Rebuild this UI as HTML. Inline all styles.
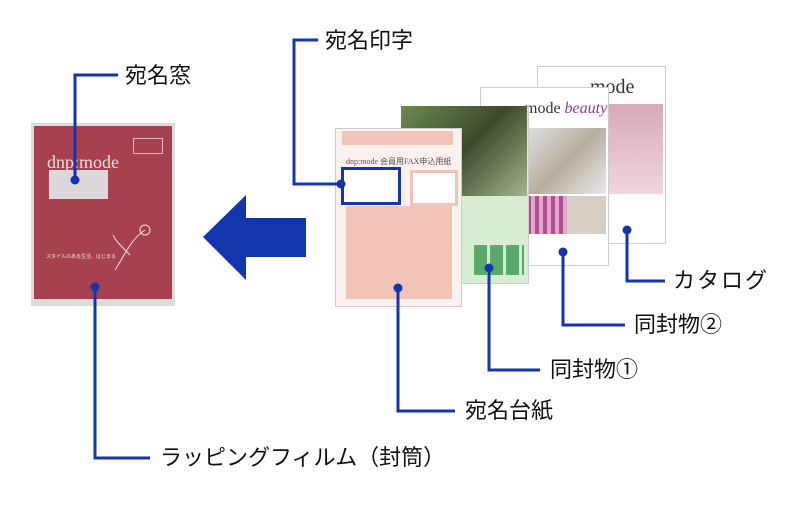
<!DOCTYPE html>
<html><head><meta charset="utf-8"><style>
body{margin:0;width:800px;height:506px;background:#fff;position:relative;overflow:hidden;font-family:"Liberation Sans","Noto Sans CJK JP",sans-serif}
.a{position:absolute}
.lbl{position:absolute;font-size:22px;font-weight:normal;color:#111;line-height:1;white-space:nowrap}
</style></head><body>
<!-- envelope -->
<div class="a" style="left:31px;top:123px;width:144px;height:183px;background:#dcdcdc"></div>
<div class="a" style="left:34px;top:126px;width:138px;height:173px;background:#a6424f"></div>
<div class="a" style="left:47px;top:152px;font-family:'Liberation Serif',serif;color:#f3dde0;font-size:18px">dnp:mode</div>
<div class="a" style="left:49px;top:170px;width:59px;height:29px;background:#dcd8da"></div>
<div class="a" style="left:133px;top:138px;width:28px;height:14px;border:1px solid #e8b8be"></div>
<div class="a" style="left:46px;top:253px;font-size:5px;color:#f3dde0">スタイルのある生活、はじまる</div>
<svg class="a" style="left:105px;top:215px" width="60" height="60"><path d="M10 55 C20 40 25 25 40 15 M25 40 C15 30 10 25 8 20" stroke="#f3dde0" fill="none"/><circle cx="40" cy="15" r="5" fill="none" stroke="#f3dde0"/></svg>
<!-- cards -->
<div class="a" style="left:537px;top:66px;width:127px;height:176px;background:#fff;border:1px solid #ccc"></div>
<div class="a" style="left:590px;top:76px;font-family:'Liberation Serif',serif;font-size:20px;color:#333">mode</div>
<div class="a" style="left:607px;top:104px;width:56px;height:90px;background:linear-gradient(#d7a9b9,#f0d6de)"></div>
<div class="a" style="left:480px;top:87px;width:127px;height:177px;background:#fff;border:1px solid #ccc"></div>
<div class="a" style="left:525px;top:100px;font-family:'Liberation Serif',serif;font-size:16px;color:#333">mode <i style="color:#9b3d7a">beauty</i></div>
<div class="a" style="left:527px;top:128px;width:79px;height:66px;background:linear-gradient(135deg,#dde0e0,#b8aea0 50%,#e8e8e8)"></div>
<div class="a" style="left:527px;top:196px;width:40px;height:38px;background:repeating-linear-gradient(90deg,#b0508f 0 4px,#e2a8cf 4px 8px)"></div>
<div class="a" style="left:567px;top:196px;width:39px;height:38px;background:#d8cfc4"></div>
<div class="a" style="left:401px;top:106px;width:126px;height:176px;background:#d8ecd2;border:1px solid #ccc"></div>
<div class="a" style="left:401px;top:106px;width:126px;height:90px;background:linear-gradient(135deg,#6d8a50,#3d4a2c 50%,#a5b48c)"></div>
<div class="a" style="left:474px;top:245px;width:50px;height:30px;background:repeating-linear-gradient(90deg,#5aa86a 0 13px,transparent 13px 16px)"></div>
<div class="a" style="left:335px;top:128px;width:125px;height:177px;background:#fbf1ee;border:1px solid #ccc"></div>
<div class="a" style="left:342px;top:131px;width:111px;height:14px;background:#f2c4b8"></div>
<div class="a" style="left:346px;top:156px;font-size:8px;color:#555;font-family:'Liberation Serif',serif">dnp:mode 会員用FAX申込用紙</div>
<div class="a" style="left:410px;top:170px;width:42px;height:30px;border:3px solid #f2c4b8;background:#fff"></div>
<div class="a" style="left:346px;top:206px;width:106px;height:93px;background:#f2c4b8"></div>
<div class="a" style="left:341px;top:167px;width:54px;height:32px;border:3px solid #1436ac;background:#fff"></div>
<!-- arrow -->
<svg class="a" style="left:0;top:0" width="800" height="506">
<polygon points="203,237 246,195 246,218 306,218 306,257 246,257 246,280" fill="#1436ac"/>
<g stroke="#1436ac" stroke-width="3" fill="none">
<polyline points="75,180 75,75 118,75"/>
<polyline points="95,287 95,458 150,458"/>
<polyline points="341,184 294,184 294,40 318,40"/>
<polyline points="398,288 398,411 455,411"/>
<polyline points="489,268 489,370 540,370"/>
<polyline points="563,252 563,325 625,325"/>
<polyline points="627,230 627,281 665,281"/>
</g>
<g fill="#1436ac"><circle cx="75" cy="180" r="4.5"/><circle cx="95" cy="287" r="4.5"/><circle cx="341" cy="184" r="4.5"/><circle cx="398" cy="288" r="4.5"/><circle cx="489" cy="268" r="4.5"/><circle cx="563" cy="252" r="4.5"/><circle cx="627" cy="230" r="4.5"/></g>
</svg>
<div class="lbl" style="left:125px;top:65px">宛名窓</div>
<div class="lbl" style="left:325px;top:30px">宛名印字</div>
<div class="lbl" style="left:673px;top:270px;letter-spacing:2px">カタログ</div>
<div class="lbl" style="left:634px;top:314px">同封物②</div>
<div class="lbl" style="left:550px;top:359px">同封物①</div>
<div class="lbl" style="left:465px;top:400px">宛名台紙</div>
<div class="lbl" style="left:160px;top:447px">ラッピングフィルム（封筒）</div>
</body></html>
